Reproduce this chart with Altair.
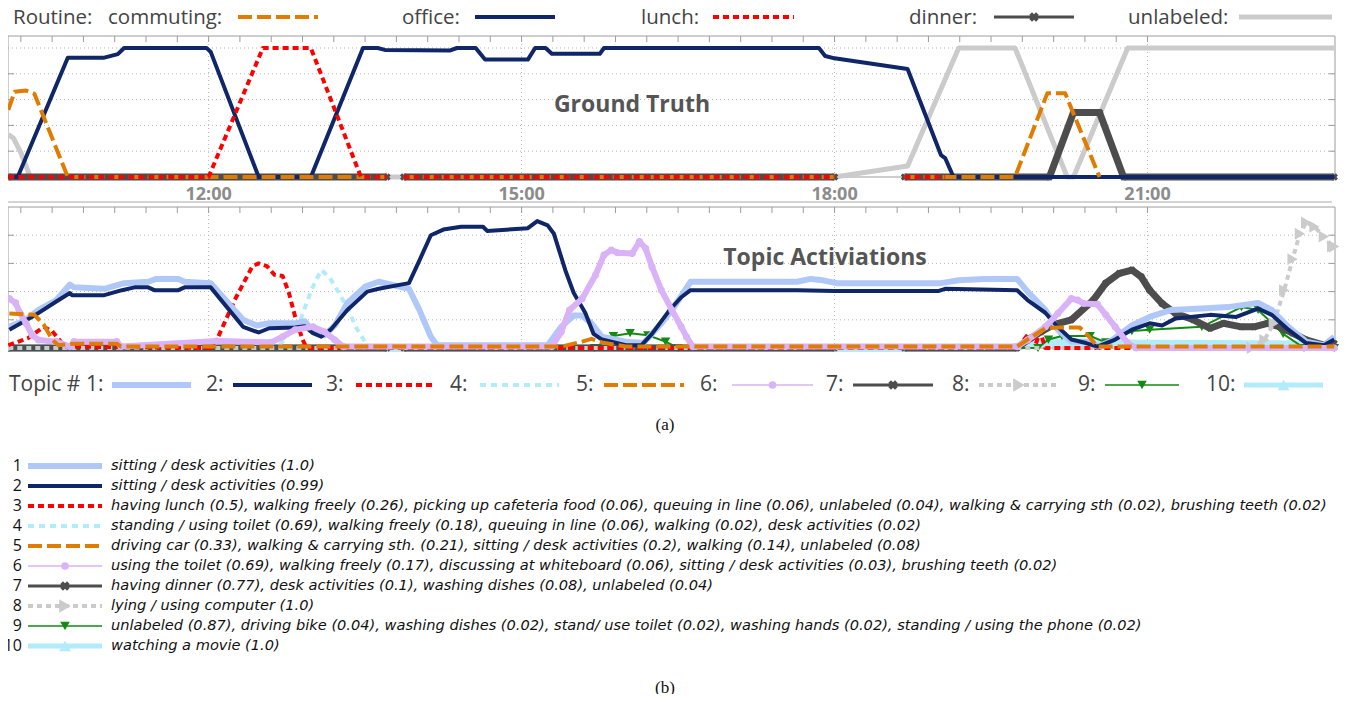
import altair as alt
import pandas as pd

# ---------------------------------------------------------------- data
# time in hours of the day, activation 0..1

# Ground truth routines
GT_OFFICE_T = [10.08, 10.17, 10.65, 11.00, 11.13, 11.19, 11.98, 12.02, 12.48, 12.98, 13.48, 13.62, 13.69,
               14.31, 14.38, 14.56, 14.65, 15.06, 15.13, 15.23, 15.29, 15.75, 15.79, 17.85, 17.91, 18.00,
               18.70, 19.02, 19.06, 19.14, 22.79]
GT_OFFICE_V = [0, 0, 0.925, 0.925, 0.953, 1, 1, 0.97, 0, 0, 1, 1, 0.985,
               0.98, 1, 1, 0.91, 0.91, 1, 1, 0.955, 0.955, 1, 1, 0.938, 0.92,
               0.837, 0.17, 0.147, 0, 0]

GT_COMMUTE_T = [10.08, 10.14, 10.25, 10.33, 10.65, 13.71, 13.79, 13.87, 18.00, 18.33, 18.67, 19.73, 20.04,
                20.21, 20.54]
GT_COMMUTE_V = [0.52, 0.66, 0.67, 0.645, 0, 0, None, 0, 0, None, 0, 0, 0.65, 0.65, 0]

GT_LUNCH_T = [10.08, 12.00, 12.52, 12.98, 13.46, 13.71, 13.79, 13.87, 18.00, 18.33, 18.67, 19.06]
GT_LUNCH_V = [0, 0, 1, 1, 0, 0, None, 0, 0, None, 0, 0]

GT_DINNER_T = [10.08, 13.71, 13.79, 13.87, 18.00, 18.33, 18.67, 20.06, 20.29, 20.54, 20.77, 22.79]
GT_DINNER_V = [0, 0, None, 0, 0, None, 0, 0, 0.5, 0.5, 0, 0]

GT_UNLAB_T = [10.08, 10.13, 10.20, 10.29, 18.00, 18.70, 19.19, 19.73, 20.23, 20.29, 20.81, 22.79]
GT_UNLAB_V = [0.33, 0.30, 0.19, 0, 0, 0.085, 1, 1, 0, 0, 1, 1]

# Topic activations
T1_T = [10.09, 10.25, 10.37, 10.54, 10.67, 10.71, 11.00, 11.19, 11.42, 11.50, 11.71, 11.77, 12.02, 12.33,
        12.46, 12.58, 12.83, 12.92, 13.00, 13.11, 13.21, 13.33, 13.50, 13.63, 13.92, 14.02, 14.13, 14.19,
        15.25, 15.38, 15.50, 15.58, 15.67, 15.77, 16.00, 16.17, 16.34, 16.46, 16.62, 17.64, 17.77, 17.89,
        18.02, 19.02, 19.19, 19.44, 19.75, 19.85, 20.02, 20.14, 20.27, 20.41, 20.52, 20.64, 20.85, 21.02,
        21.23, 21.52, 21.77, 22.06, 22.19, 22.35, 22.52, 22.69, 22.79]
T1_V = [0.15, 0.20, 0.27, 0.34, 0.45, 0.43, 0.42, 0.46, 0.47, 0.49, 0.49, 0.47, 0.46, 0.20,
        0.16, 0.175, 0.175, 0.19, 0.12, 0.09, 0.16, 0.32, 0.435, 0.47, 0.42, 0.27, 0.08, 0.02,
        0.02, 0.15, 0.23, 0.23, 0.175, 0.08, 0.045, 0.035, 0.175, 0.29, 0.47, 0.47, 0.49, 0.48,
        0.46, 0.46, 0.48, 0.49, 0.49, 0.40, 0.27, 0.13, 0.045, 0.045, 0.01, 0.045, 0.16, 0.22,
        0.27, 0.28, 0.29, 0.32, 0.27, 0.15, 0.045, 0.02, 0.08]

T2_T = [10.09, 10.33, 10.54, 10.67, 10.69, 11.00, 11.17, 11.29, 11.42, 11.48, 11.71, 11.77, 12.02, 12.33,
        12.48, 12.58, 12.83, 12.92, 13.00, 13.08, 13.17, 13.33, 13.52, 13.63, 13.92, 14.02, 14.13, 14.25,
        14.42, 14.63, 14.67, 15.06, 15.15, 15.25, 15.31, 15.42, 15.50, 15.61, 15.69, 15.77, 16.00, 16.15,
        16.25, 16.42, 16.53, 16.62, 17.64, 18.00, 19.00, 19.06, 19.75, 19.85, 20.02, 20.14, 20.27, 20.41,
        20.52, 20.69, 20.85, 21.02, 21.14, 21.27, 21.60, 21.85, 22.06, 22.19, 22.35, 22.52, 22.69, 22.79]
T2_V = [0.13, 0.23, 0.33, 0.39, 0.375, 0.375, 0.41, 0.43, 0.43, 0.41, 0.41, 0.43, 0.43, 0.15,
        0.11, 0.14, 0.145, 0.155, 0.105, 0.08, 0.13, 0.27, 0.40, 0.42, 0.46, 0.62, 0.80, 0.84,
        0.86, 0.86, 0.83, 0.85, 0.90, 0.87, 0.81, 0.55, 0.39, 0.25, 0.10, 0.06, 0.02, 0.02,
        0.10, 0.27, 0.36, 0.41, 0.41, 0.405, 0.405, 0.42, 0.41, 0.34, 0.25, 0.15, 0.06, 0.035,
        0.01, 0.06, 0.13, 0.175, 0.16, 0.21, 0.235, 0.22, 0.28, 0.235, 0.13, 0.035, 0.02, 0.06]

T3_T = [10.08, 10.27, 10.42, 10.50, 10.62, 12.02, 12.08, 12.25, 12.42, 12.48, 12.56, 12.63, 12.71, 12.77,
        12.83, 12.90, 12.94, 19.75, 19.86, 19.93, 19.97, 20.02, 22.79]
T3_V = [0.02, 0.07, 0.15, 0.12, 0.01, 0, 0.06, 0.34, 0.58, 0.60, 0.58, 0.52, 0.51, 0.39,
        0.22, 0.06, 0, 0, 0.10, 0.03, 0.12, 0, 0]

T4_T = [12.68, 12.88, 12.99, 13.08, 13.16, 13.25, 13.34, 13.41, 13.52]
T4_V = [0.02, 0.20, 0.42, 0.553, 0.50, 0.39, 0.27, 0.15, 0.02]

T5_T = [10.09, 10.33, 10.42, 10.50, 10.56, 10.71, 11.12, 11.16, 15.38, 15.58, 15.67, 15.77, 16.00, 19.75,
        19.85, 20.02, 20.14, 20.35, 20.44, 20.52, 22.79]
T5_V = [0.245, 0.235, 0.165, 0.06, 0.02, 0.03, 0.03, 0.01, 0.01, 0.045, 0.065, 0.04, 0.01, 0.01,
        0.06, 0.14, 0.145, 0.145, 0.08, 0.01, 0.01]

T6_T = [10.09, 10.15, 10.19, 10.25, 10.31, 10.37, 10.54, 10.67, 10.71, 11.12, 11.16, 12.08, 12.60, 12.71,
        12.83, 13.00, 13.11, 13.21, 13.29, 15.29, 15.38, 15.46, 15.58, 15.71, 15.79, 15.86, 15.92, 16.06,
        16.13, 16.19, 16.25, 16.34, 16.44, 16.53, 16.58, 16.64, 19.75, 19.85, 20.02, 20.14, 20.27, 20.33,
        20.39, 20.52, 20.60, 20.69, 20.81, 20.89, 22.79]
T6_V = [0.35, 0.32, 0.25, 0.175, 0.09, 0.057, 0.045, 0.01, 0.045, 0.045, 0.01, 0.05, 0.04, 0.08,
        0.13, 0.15, 0.115, 0.057, 0.01, 0.01, 0.115, 0.27, 0.35, 0.52, 0.66, 0.695, 0.675, 0.67,
        0.755, 0.705, 0.575, 0.41, 0.27, 0.15, 0.08, 0.01, 0.01, 0.057, 0.15, 0.245, 0.35, 0.34,
        0.315, 0.31, 0.235, 0.15, 0.035, 0.0, 0.0]

T7_T = [10.08, 13.71, 13.79, 13.87, 18.00, 18.33, 18.67, 19.75, 19.85, 19.98, 20.10, 20.27, 20.48, 20.60,
        20.73, 20.85, 20.94, 21.02, 21.14, 21.27, 21.44, 21.60, 21.73, 21.90, 22.02, 22.15, 22.27, 22.39,
        22.52, 22.69, 22.79]
T7_V = [0, 0, None, 0, 0, None, 0, 0, 0.057, 0.115, 0.165, 0.20, 0.34, 0.46,
        0.53, 0.553, 0.505, 0.41, 0.315, 0.245, 0.20, 0.14, 0.175, 0.15, 0.15, 0.175, 0.15, 0.105,
        0.057, 0.02, 0.033]

T8_T = [10.08, 22.00, 22.12, 22.21, 22.31, 22.39, 22.46, 22.52, 22.60, 22.69, 22.77, 22.79]
T8_V = [0, 0, 0.057, 0.175, 0.41, 0.63, 0.81, 0.89, 0.86, 0.79, 0.72, 0.72]

T9_T = [10.08, 15.70, 15.88, 16.04, 16.21, 16.38, 16.50, 19.95, 20.05, 20.18, 20.45, 20.60, 20.85, 21.02,
        21.52, 21.90, 22.06, 22.30, 22.50, 22.79]
T9_V = [0, 0, 0.085, 0.105, 0.09, 0.045, 0, 0, 0.06, 0.085, 0.085, 0.04, 0.12, 0.13,
        0.15, 0.29, 0.27, 0.10, 0, 0]

T10_T = [10.08, 19.70, 19.85, 20.00, 20.50, 21.00, 22.50, 22.79]
T10_V = [0, 0, 0.025, 0.04, 0.035, 0.03, 0.025, 0.015]

HOUR_TICKS = [12, 15, 18, 21]
HOUR_LABELS = ["12:00", "15:00", "18:00", "21:00"]
MINOR_TICKS = [round(12 + 0.3 * k, 2) for k in range(-6, 31)]
GT_LEVELS = [0.2, 0.4, 0.6, 0.8, 1.0]
TA_LEVELS = [0.2, 0.4, 0.6, 0.8]

ROUTINE_NAMES = ["commuting:", "office:", "lunch:", "dinner:", "unlabeled:"]
TOPIC_NUMS = ["1", "2", "3", "4", "5", "6", "7", "8", "9", "10"]
TOPIC_DESC = [
    "sitting / desk activities (1.0)",
    "sitting / desk activities (0.99)",
    "having lunch (0.5), walking freely (0.26), picking up cafeteria food (0.06), queuing in line (0.06), "
    "unlabeled (0.04), walking & carrying sth (0.02), brushing teeth (0.02)",
    "standing / using toilet (0.69), walking freely (0.18), queuing in line (0.06), walking (0.02), "
    "desk activities (0.02)",
    "driving car (0.33), walking & carrying sth. (0.21), sitting / desk activities (0.2), walking (0.14), "
    "unlabeled (0.08)",
    "using the toilet (0.69), walking freely (0.17), discussing at whiteboard (0.06), "
    "sitting / desk activities (0.03), brushing teeth (0.02)",
    "having dinner (0.77), desk activities (0.1), washing dishes (0.08), unlabeled (0.04)",
    "lying / using computer (1.0)",
    "unlabeled (0.87), driving bike (0.04), washing dishes (0.02), stand/ use toilet (0.02), "
    "washing hands (0.02), standing / using the phone (0.02)",
    "watching a movie (1.0)",
]

# ---------------------------------------------------------------- layout (page pixels)
PAD_L, PAD_T = 8, 12
W, H = 1342 - PAD_L, 686 - PAD_T


def X(p):
    return p - 8 - PAD_L


def Y(p):
    return p - 8 - PAD_T


T_MIN, T_MAX = 10.077, 22.797
FX0, FX1 = 8, 1335                      # panel frame, page x
PX_PER_H = (FX1 - FX0) / (T_MAX - T_MIN)
XS = alt.Scale(domain=[T_MIN, T_MAX], range=[X(FX0), X(FX1)], nice=False, zero=False)
YT = alt.Scale(domain=[0, 1], range=[Y(177), Y(48)], nice=False, zero=False)    # ground truth panel
YB = alt.Scale(domain=[0, 1], range=[Y(348), Y(207)], nice=False, zero=False)   # topic panel
GT_TOP = 1.093

NAVY = "#0f2768"
LBLUE = "#b0c8f8"
RED = "#ff0000"
CYAN = "#b2ecfb"
ORANGE = "#e07c00"
LAV = "#d9b2f7"
DGRAY = "#4d4d4d"
LGRAY = "#cbcbcb"
GREEN = "#138a13"
FRAME = "#9c9c9c"
GRID = "#b8b8b8"
TXT = "#444444"

SANS = "Open Sans"

STY = {
    "commute": dict(color=ORANGE, width=4, dash=[14, 5]),
    "office": dict(color=NAVY, width=4),
    "lunch": dict(color=RED, width=4, dash=[6, 4]),
    "dinner": dict(color=DGRAY, width=3, shape="cross", angle=45, msize=70),
    "unlab": dict(color=LGRAY, width=5),
    1: dict(color=LBLUE, width=6),
    2: dict(color=NAVY, width=4),
    3: dict(color=RED, width=4, dash=[6, 4]),
    4: dict(color=CYAN, width=4, dash=[6, 5]),
    5: dict(color=ORANGE, width=4, dash=[14, 5]),
    6: dict(color=LAV, width=1.5, shape="circle", msize=45),
    7: dict(color=DGRAY, width=3, shape="cross", angle=45, msize=70),
    8: dict(color=LGRAY, width=4, dash=[5, 4], shape="triangle-right", msize=140),
    9: dict(color=GREEN, width=1.5, shape="triangle-down", msize=70),
    10: dict(color=CYAN, width=5, shape="triangle-up", msize=110),
}

ONE = pd.DataFrame({"k": [0]})


def seg_frame(t, v):
    assert len(t) == len(v)
    rows, seg = [], 0
    for ti, vi in zip(t, v):
        if vi is None:
            seg += 1
            continue
        rows.append({"t": ti, "v": vi, "seg": seg})
    return pd.DataFrame(rows)


def series(t, v, ys, sty, chart_width=None, marker_size=None):
    df = seg_frame(t, v)
    width = chart_width if chart_width is not None else sty["width"]
    kw = dict(color=sty["color"], strokeWidth=width, strokeCap="butt", strokeJoin="round")
    if sty.get("dash"):
        kw["strokeDash"] = sty["dash"]
    enc = dict(x=alt.X("t:Q", scale=XS, axis=None), y=alt.Y("v:Q", scale=ys, axis=None))
    out = [alt.Chart(df).mark_line(**kw).encode(detail="seg:N", **enc)]
    if sty.get("shape"):
        pk = dict(shape=sty["shape"], filled=True, opacity=1, color=sty["color"],
                  size=marker_size or sty["msize"])
        if sty.get("angle"):
            pk["angle"] = sty["angle"]
        out.append(alt.Chart(df).mark_point(**pk).encode(**enc))
    return out


def sample(x0, x1, y, sty):
    kw = dict(color=sty["color"], strokeWidth=sty["width"], strokeCap="butt")
    if sty.get("dash"):
        kw["strokeDash"] = sty["dash"]
    out = [alt.Chart(ONE).mark_rule(**kw).encode(x=alt.value(X(x0)), x2=alt.value(X(x1)), y=alt.value(Y(y)))]
    if sty.get("shape"):
        pk = dict(shape=sty["shape"], filled=True, opacity=1, color=sty["color"], size=sty["msize"] * 1.3)
        if sty.get("angle"):
            pk["angle"] = sty["angle"]
        out.append(alt.Chart(ONE).mark_point(**pk).encode(x=alt.value(X((x0 + x1) / 2)), y=alt.value(Y(y))))
    return out


def label(x, y, text, size=21, font=SANS, color=TXT, align="left", weight="normal", style="normal"):
    return alt.Chart(ONE).mark_text(text=text, align=align, baseline="middle", font=font, fontSize=size,
                                    color=color, fontWeight=weight, fontStyle=style).encode(
        x=alt.value(X(x)), y=alt.value(Y(y)))


def panel_decor(ys, top, levels, px_per_unit):
    lay = []
    dx = 6 / PX_PER_H
    dy = 6 / px_per_unit
    grid_h = pd.DataFrame({"y": levels})
    lay.append(alt.Chart(grid_h).mark_rule(color=GRID, strokeWidth=1, strokeDash=[1, 3]).encode(
        x=alt.value(X(FX0)), x2=alt.value(X(FX1)), y=alt.Y("y:Q", scale=ys, axis=None)))
    grid_v = pd.DataFrame({"t": HOUR_TICKS, "y0": [0] * 4, "y1": [top] * 4})
    lay.append(alt.Chart(grid_v).mark_rule(color=GRID, strokeWidth=1, strokeDash=[1, 3]).encode(
        x=alt.X("t:Q", scale=XS, axis=None), y=alt.Y("y0:Q", scale=ys, axis=None), y2="y1:Q"))
    frame = pd.DataFrame({"x0": [T_MIN], "x1": [T_MAX], "y0": [0], "y1": [top]})
    lay.append(alt.Chart(frame).mark_rect(fillOpacity=0, stroke=FRAME, strokeWidth=1).encode(
        x=alt.X("x0:Q", scale=XS, axis=None), x2="x1:Q", y=alt.Y("y0:Q", scale=ys, axis=None), y2="y1:Q"))
    mt = pd.DataFrame({"t": MINOR_TICKS, "y0": [top] * len(MINOR_TICKS), "y1": [top - dy] * len(MINOR_TICKS)})
    lay.append(alt.Chart(mt).mark_rule(color=FRAME, strokeWidth=1).encode(
        x=alt.X("t:Q", scale=XS, axis=None), y=alt.Y("y0:Q", scale=ys, axis=None), y2="y1:Q"))
    yt = pd.DataFrame({"y": levels[:4], "a0": [T_MIN] * 4, "a1": [T_MIN + dx] * 4,
                       "b0": [T_MAX - dx] * 4, "b1": [T_MAX] * 4})
    lay.append(alt.Chart(yt).mark_rule(color=FRAME, strokeWidth=1).encode(
        x=alt.X("a0:Q", scale=XS, axis=None), x2="a1:Q", y=alt.Y("y:Q", scale=ys, axis=None)))
    lay.append(alt.Chart(yt).mark_rule(color=FRAME, strokeWidth=1).encode(
        x=alt.X("b0:Q", scale=XS, axis=None), x2="b1:Q", y=alt.Y("y:Q", scale=ys, axis=None)))
    return lay


layers = []

# ---------------- ground truth panel
layers += panel_decor(YT, GT_TOP, GT_LEVELS, 129)
layers.append(label(632, 105, "Ground Truth", size=23, color="#555555", align="center", weight="bold"))
layers += series(GT_UNLAB_T, GT_UNLAB_V, YT, STY["unlab"])
layers += series(GT_DINNER_T, GT_DINNER_V, YT, STY["dinner"], chart_width=7, marker_size=55)
layers += series(GT_OFFICE_T, GT_OFFICE_V, YT, STY["office"])
layers += series(GT_COMMUTE_T, GT_COMMUTE_V, YT, STY["commute"])
layers += series(GT_LUNCH_T, GT_LUNCH_V, YT, STY["lunch"])

# hour labels and separator line
hl = pd.DataFrame({"t": HOUR_TICKS, "lab": HOUR_LABELS})
layers.append(alt.Chart(hl).mark_text(font=SANS, fontSize=18, fontWeight="bold", color="#8c8c8c",
                                      baseline="middle").encode(
    x=alt.X("t:Q", scale=XS, axis=None), y=alt.value(Y(195)), text="lab:N"))
layers.append(alt.Chart(ONE).mark_rule(color="#aaaaaa", strokeWidth=1).encode(
    x=alt.value(X(FX0)), x2=alt.value(X(1332)), y=alt.value(Y(202))))

# ---------------- topic activations panel
layers += panel_decor(YB, 1.0, TA_LEVELS, 141)
layers.append(label(825, 258, "Topic Activiations", size=23, color="#555555", align="center", weight="bold"))
layers += series(T10_T, T10_V, YB, STY[10], chart_width=8, marker_size=80)
layers += series(T9_T, T9_V, YB, STY[9], chart_width=2, marker_size=90)
layers += series(T7_T, T7_V, YB, STY[7], chart_width=7, marker_size=55)
layers += series(T8_T, T8_V, YB, STY[8])
layers += series(T4_T, T4_V, YB, STY[4])
layers += series(T3_T, T3_V, YB, STY[3])
layers += series(T1_T, T1_V, YB, STY[1])
layers += series(T2_T, T2_V, YB, STY[2])
layers += series(T6_T, T6_V, YB, STY[6], chart_width=6, marker_size=50)
layers += series(T5_T, T5_V, YB, STY[5])

# ---------------- top legend (routines)
LEG_Y = 18
layers.append(label(13, LEG_Y, "Routine:", size=20.5))
top_leg = [  # text x, sample x0, x1
    (108, 238, 318, "commute"),
    (402, 475, 555, "office"),
    (641, 713, 794, "lunch"),
    (909, 994, 1074, "dinner"),
    (1128, 1239, 1332, "unlab"),
]
for name, (tx, x0, x1, key) in zip(ROUTINE_NAMES, top_leg):
    layers.append(label(tx, LEG_Y, name, size=20.5))
    layers += sample(x0, x1, 17, STY[key])

# ---------------- bottom legend (topics)
bot_leg = [(9, 112, 191), (206, 233, 312), (326, 356, 435), (450, 480, 559), (576, 604, 684),
           (700, 732, 813), (826, 853, 933), (952, 979, 1059), (1078, 1105, 1179), (1206, 1244, 1323)]
for i, (tx, x0, x1) in enumerate(bot_leg):
    txt = ("Topic # " if i == 0 else "") + TOPIC_NUMS[i] + ":"
    layers.append(label(tx, 385, txt))
    layers += sample(x0, x1, 385, STY[i + 1])

layers.append(label(665, 425, "(a)", size=17, font="Liberation Serif", color="#111111", align="center"))

# ---------------- topic description table (b)
for i in range(10):
    y = 466 + 20 * i
    layers.append(label(22, y, TOPIC_NUMS[i], size=16, color="#111111", align="right"))
    layers += sample(28, 102, y, STY[i + 1])
    layers.append(label(111, y, TOPIC_DESC[i], size=14.6, font="DejaVu Sans", color="#111111",
                        style="italic"))

layers.append(label(665, 688, "(b)", size=17, font="Liberation Serif", color="#111111", align="center"))

chart = alt.layer(*layers).resolve_scale(y="independent").properties(
    width=W, height=H, padding={"left": PAD_L, "top": PAD_T, "right": 0, "bottom": 0},
    autosize=alt.AutoSizeParams(type="none")
).configure_view(stroke=None)

chart.save("out.html", embed_options={"renderer": "svg", "actions": False})
